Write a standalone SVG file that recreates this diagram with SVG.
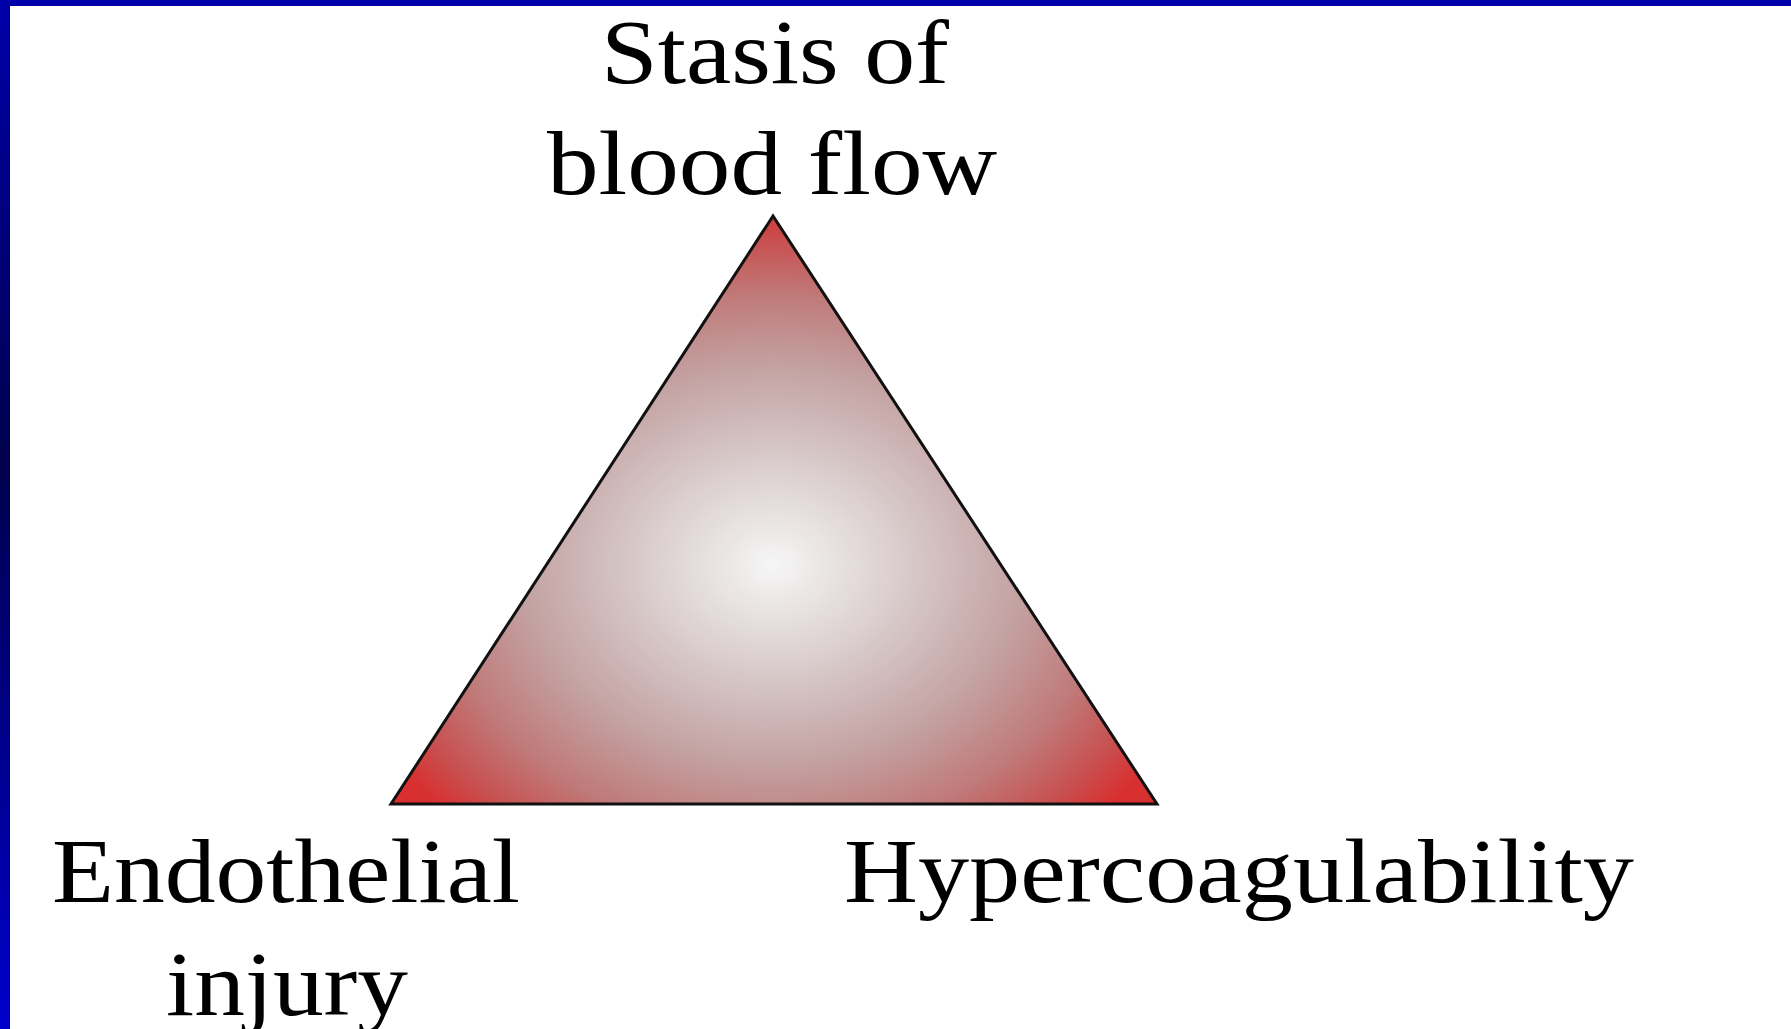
<svg xmlns="http://www.w3.org/2000/svg" width="1791" height="1029" viewBox="0 0 1791 1029">
<style>
.lbl{font-family:"Liberation Serif","Times New Roman",serif;font-size:92px;fill:#000}
</style>
<defs>
<linearGradient id="side" x1="0" y1="0" x2="0" y2="1">
<stop offset="0" stop-color="#0000aa"/>
<stop offset="0.45" stop-color="#00004c"/>
<stop offset="1" stop-color="#0000cc"/>
</linearGradient>
<radialGradient id="fillg" gradientUnits="userSpaceOnUse" cx="773" cy="565" r="450" gradientTransform="translate(773 565) scale(1 0.8) translate(-773 -565)">
<stop offset="0" stop-color="#f6f6f6"/>
<stop offset="0.3" stop-color="#d8caca"/>
<stop offset="0.55" stop-color="#c4a2a2"/>
<stop offset="0.75" stop-color="#c07a7a"/>
<stop offset="0.9" stop-color="#c85050"/>
<stop offset="1" stop-color="#d83030"/>
</radialGradient>
</defs>
<rect x="0" y="0" width="1791" height="1029" fill="#fff"/>
<rect x="0" y="0" width="1791" height="6" fill="#0000aa"/>
<rect x="0" y="0" width="10" height="1029" fill="url(#side)"/>
<g id="connectors"></g>
<g id="triangle">
<polygon points="773,216 391,804 1157,804" fill="url(#fillg)" stroke="#111" stroke-width="3" stroke-linejoin="miter"/>
</g>
<g id="node-stasis">
<text class="lbl" x="601" y="83" textLength="348" lengthAdjust="spacingAndGlyphs">Stasis of</text>
<text class="lbl" x="547" y="194" textLength="450" lengthAdjust="spacingAndGlyphs">blood flow</text>
</g>
<g id="node-endothelial">
<text class="lbl" x="52" y="902" textLength="468" lengthAdjust="spacingAndGlyphs">Endothelial</text>
<text class="lbl" x="166" y="1015" textLength="242" lengthAdjust="spacingAndGlyphs">injury</text>
</g>
<g id="node-hyper">
<text class="lbl" x="844" y="902" textLength="790" lengthAdjust="spacingAndGlyphs">Hypercoagulability</text>
</g>
</svg>
